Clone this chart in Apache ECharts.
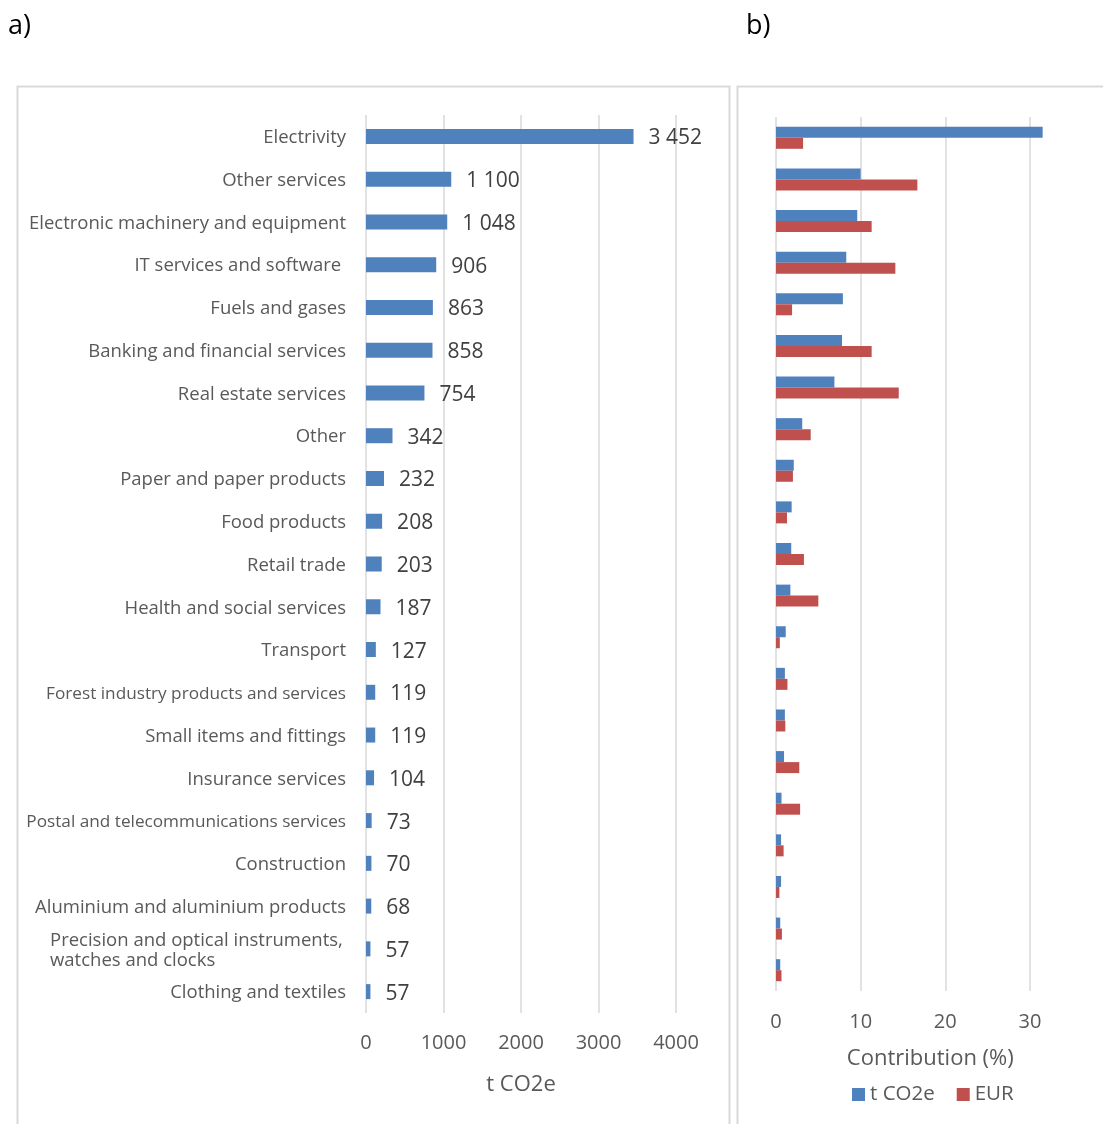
<!DOCTYPE html>
<html>
<head>
<meta charset="utf-8">
<script src="https://cdn.jsdelivr.net/npm/echarts@6/dist/echarts.min.js"></script>
<style>
html,body{margin:0;padding:0;background:#fff;overflow:hidden;width:1103px;height:1124px;}
#chart{width:1116px;height:1124px;}
</style>
</head>
<body>
<div id="chart"></div>
<script>
const categories = [
  'Electrivity', 'Other services', 'Electronic machinery and equipment', 'IT services and software ',
  'Fuels and gases', 'Banking and financial services', 'Real estate services', 'Other',
  'Paper and paper products', 'Food products', 'Retail trade', 'Health and social services',
  'Transport', 'Forest industry products and services', 'Small items and fittings', 'Insurance services',
  'Postal and telecommunications services', 'Construction', 'Aluminium and aluminium products',
  'Precision and optical instruments,\nwatches and clocks', 'Clothing and textiles'
];
const co2Tonnes = [3452, 1100, 1048, 906, 863, 858, 754, 342, 232, 208, 203, 187, 127, 119, 119, 104, 73, 70, 68, 57, 57];
const shareCO2 = [31.5, 10.0, 9.6, 8.3, 7.9, 7.8, 6.9, 3.1, 2.1, 1.85, 1.8, 1.7, 1.15, 1.05, 1.05, 0.95, 0.65, 0.6, 0.6, 0.5, 0.5];
const shareEUR = [3.2, 16.7, 11.3, 14.1, 1.9, 11.3, 14.5, 4.1, 2.0, 1.3, 3.3, 5.0, 0.45, 1.35, 1.1, 2.75, 2.85, 0.9, 0.4, 0.7, 0.65];
const ticksA = [0, 1000, 2000, 3000, 4000];
const ticksB = [0, 10, 20, 30, 40];
const seriesNames = ['t CO2e', 'EUR'];

const FONT = 'Open Sans';
const BLUE = '#4f81bd';
const RED = '#c0504d';
const GRID = '#d9d9d9';
const TXT = '#595959';

function catFormatter(v) {
  if (v.indexOf('\n') >= 0) {
    return v.split('\n').map(s => '{p|' + s + '}').join('\n');
  }
  if (v === 'Forest industry products and services' || v === 'Postal and telecommunications services') {
    return '{n|' + v + '}';
  }
  return v;
}

const chart = echarts.init(document.getElementById('chart'), null, {renderer: 'canvas'});
const option = {
  animation: false,
  textStyle: {fontFamily: FONT},
  graphic: [
    {type: 'rect', silent: true, shape: {x: 17.5, y: 86.5, width: 712, height: 1100},
     style: {fill: 'none', stroke: GRID, lineWidth: 2}},
    {type: 'rect', silent: true, shape: {x: 737.5, y: 86.5, width: 400, height: 1100},
     style: {fill: 'none', stroke: GRID, lineWidth: 2}},
    {type: 'text', left: 8, top: 13, style: {text: 'a)', fontFamily: FONT, fontSize: 27, fill: '#000'}},
    {type: 'text', left: 746, top: 13, style: {text: 'b)', fontFamily: FONT, fontSize: 27, fill: '#000'}}
  ],
  legend: {
    data: seriesNames,
    left: 847, top: 1079,
    icon: 'rect', itemWidth: 13, itemHeight: 13, itemGap: 22,
    textStyle: {fontFamily: FONT, fontSize: 20.5, color: TXT, padding: [0, 0, 0, 0]}
  },
  grid: [
    {left: 366, right: 1116 - 676, top: 115, bottom: 111, containLabel: false},
    {left: 776, right: 1116 - 1114.6, top: 117, bottom: 133, containLabel: false}
  ],
  xAxis: [
    {
      type: 'value', gridIndex: 0,
      min: ticksA[0], max: ticksA[ticksA.length - 1], interval: ticksA[1] - ticksA[0],
      axisLine: {show: false}, axisTick: {show: false},
      splitLine: {show: true, lineStyle: {color: GRID, width: 1.5}},
      axisLabel: {fontFamily: FONT, fontSize: 20, color: TXT, margin: 20, formatter: v => String(v)},
      name: 't CO2e', nameLocation: 'middle', nameGap: 61,
      nameTextStyle: {fontFamily: FONT, fontSize: 22, color: TXT}
    },
    {
      type: 'value', gridIndex: 1,
      min: ticksB[0], max: ticksB[ticksB.length - 1], interval: ticksB[1] - ticksB[0],
      axisLine: {show: false}, axisTick: {show: false},
      splitLine: {show: true, lineStyle: {color: GRID, width: 1.5}},
      axisLabel: {fontFamily: FONT, fontSize: 20, color: TXT, margin: 21, showMaxLabel: false, formatter: v => String(v)},
      name: 'Contribution (%)', nameLocation: 'middle', nameGap: 57,
      nameTextStyle: {fontFamily: FONT, fontSize: 22, color: TXT, padding: [0, 30, 0, 0]}
    }
  ],
  yAxis: [
    {
      type: 'category', gridIndex: 0, data: categories, inverse: true,
      axisLine: {show: false}, axisTick: {show: false},
      axisLabel: {
        fontFamily: FONT, fontSize: 18.5, color: TXT, margin: 20, interval: 0,
        lineHeight: 20, padding: [3, 0, 0, 0],
        formatter: catFormatter,
        rich: {
          p: {fontFamily: FONT, fontSize: 18.5, color: TXT, width: 296, align: 'left', lineHeight: 20},
          n: {fontFamily: FONT, fontSize: 17.2, color: TXT}
        }
      }
    },
    {
      type: 'category', gridIndex: 1, data: categories, inverse: true,
      axisLine: {show: false}, axisTick: {show: false}, axisLabel: {show: false}
    }
  ],
  series: [
    {
      name: 'tonnes', type: 'bar', xAxisIndex: 0, yAxisIndex: 0,
      data: co2Tonnes, barWidth: 15,
      itemStyle: {color: BLUE},
      label: {
        show: true, position: 'right', distance: 15, offset: [0, 2],
        fontFamily: FONT, fontSize: 21, color: '#404040',
        formatter: p => String(p.value).replace(/\B(?=(\d{3})+(?!\d))/g, ' ')
      }
    },
    {
      name: seriesNames[0], type: 'bar', xAxisIndex: 1, yAxisIndex: 1,
      data: shareCO2, barWidth: 11, barGap: '0%',
      itemStyle: {color: BLUE}
    },
    {
      name: seriesNames[1], type: 'bar', xAxisIndex: 1, yAxisIndex: 1,
      data: shareEUR, barWidth: 11, barGap: '0%',
      itemStyle: {color: RED}
    }
  ]
};
chart.setOption(option);
</script>
</body>
</html>
